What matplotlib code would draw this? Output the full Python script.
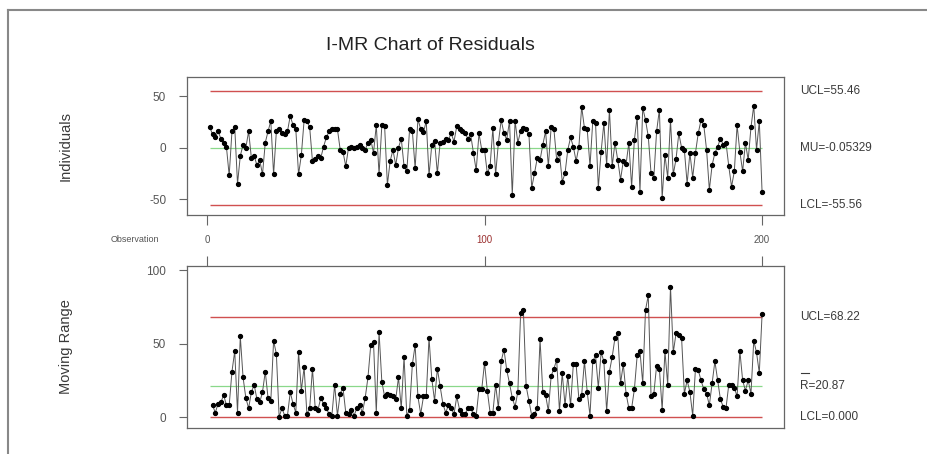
"""I-MR chart of residuals, redrawn from a screenshot."""
import numpy as np
import matplotlib
matplotlib.use('Agg')
import matplotlib.pyplot as plt
from matplotlib.lines import Line2D

plt.rcParams['font.family'] = ['Liberation Sans', 'DejaVu Sans']

# ── data ──
individuals = [
    20, 13, 10, 16, 9, 5, 1, -27, 16, 20, -35, -8, 3, 0, 16, -10, -8, -17, -12, -26,
    5, 16, 26, -26, 16, 18,
    14, 13, 16, 31, 22, 18, -26, -7, 27, 26, 20, -13, -11, -8, -10, 1, 10, 16, 18, 18,
    18, -2, -4, -18, 0, 1, 0, 1, 3,
    0, -2, 5, 8, -5, 22, -26, 22, 21, -36, -13, -2, -17, 0, 9, -18, -23, 18, 16, -20,
    28, 18, 15, 26, -27, 3, 7, -25,
    5, 6, 9, 8, 14, 6, 21, 18, 16, 14, 9, 13, -5, -22, 14, -2, -2, -25, -18, 19,
    -26, 5, 27, 14,
    8, 26, -46, 26, 5, 16, 19, 18, 13, -39, -25, -10, -12, 3, 16, -18, 20, 18, -12, -5,
    -33, -25, -2, 10, 1, -13, 1, 40, 19, 18,
    -18, 26, 24, -39, -4, 24, -17, 37, -18, 5, -12, -31, -13, -16, 5, -38, 8, 30, -43, 39,
    27, 11, -25, -29, 16, 37, -49, -7,
    -29, 27, -26, -11, 14, 0, -2, -35, -5, -29, -5, 14, 27, 22, -2, -41, -17, -5, 1, 9,
    3, 5, -18, -38, -23, 22, -4, -23, 5, -12, 20, 41, -2, 26, -43,
]

moving_range = [
    8, 3, 9, 10, 15, 8, 8, 31, 45, 3, 55, 27, 13, 6, 17, 22, 12, 10, 17, 31,
    13, 11, 52, 43, 0, 6, 1, 1, 17, 9, 3, 44, 18, 34, 2, 6, 33, 6, 5, 13,
    9, 6, 2, 1, 22, 1, 16, 20, 3, 2, 5, 1, 6, 8, 3, 13, 27, 49, 51, 3,
    58, 24, 14, 16,
    15, 14, 12, 27, 6, 41, 1, 5, 36, 49, 14, 2, 14, 14, 54, 26, 11, 33, 21, 9,
    3, 8, 6, 2, 14, 5, 2, 2, 6, 6, 2, 1, 19, 19, 37, 18, 3, 3, 22, 6,
    38, 46, 32, 23, 13, 7, 17, 71, 73, 21, 11, 1, 2, 6, 53, 17, 15, 4, 28, 33,
    39, 4, 30, 8, 28, 8, 36, 36, 12, 15, 38,
    17, 1, 38, 42, 20, 44, 38, 4, 31, 41, 54, 57, 23, 36, 16, 6, 6, 19, 42, 45,
    23, 73, 83, 14, 16, 35, 33, 5, 45, 22, 89, 44, 57, 56, 54, 16, 25, 17, 1, 33,
    32, 25, 19, 16, 8, 23, 38, 25, 12, 7, 6, 22, 22, 20, 14, 45, 25, 18, 25, 16,
    52, 44, 30, 70,
]

i_limits = {'UCL': 55.46, 'MU': -0.05329, 'LCL': -55.56}
mr_limits = {'UCL': 68.22, 'R': 20.87, 'LCL': 0.0}

obs_ticks = [0, 100, 200]
i_yticks = [-50, 0, 50]
mr_yticks = [0, 50, 100]

W, H = 927, 454
fig = plt.figure(figsize=(W / 100, H / 100), dpi=100)
fig.patch.set_facecolor('white')


def px_axes(left, top, right, bottom):
    return fig.add_axes([left / W, 1 - bottom / H, (right - left) / W, (bottom - top) / H])


ax1 = px_axes(187, 77, 784, 215)
ax2 = px_axes(187, 266, 784, 428)

RED = '#d05050'
GREEN = '#8ad88a'
TXT = '#3a3a3a'

x_i = np.arange(1, len(individuals) + 1)
x_mr = np.arange(2, len(moving_range) + 2)
x0, x1 = 1, len(individuals)

# Individuals panel
ax1.hlines([i_limits['UCL'], i_limits['LCL']], x0, x1, color=RED, lw=1.0)
ax1.hlines(i_limits['MU'], x0, x1, color=GREEN, lw=0.9)
ax1.plot(x_i, individuals, color='#555555', lw=0.7, marker='o', ms=2.8,
         mfc='black', mec='black', zorder=3)
ax1.set_ylim(-65.5, 68.9)

# Moving range panel
ax2.hlines([mr_limits['UCL'], mr_limits['LCL']], x0, x1, color=RED, lw=1.0)
ax2.hlines(mr_limits['R'], x0, x1, color=GREEN, lw=0.9)
ax2.plot(x_mr, moving_range, color='#555555', lw=0.7, marker='o', ms=2.8,
         mfc='black', mec='black', zorder=3)
ax2.set_ylim(-7.5, 103)

for ax, yt in ((ax1, i_yticks), (ax2, mr_yticks)):
    ax.set_xlim(-7.2, 207.9)
    ax.set_yticks(yt)
    ax.set_yticklabels([str(v) for v in yt], color='#555555', fontsize=8.5)
    ax.tick_params(axis='y', direction='out', length=6, width=0.8, color='#666666', pad=9)
    for s in ax.spines.values():
        s.set_color('#666666')
        s.set_linewidth(0.9)

ax1.set_xticks(obs_ticks)
ax1.tick_params(axis='x', direction='out', length=7, width=0.8, color='#666666',
                labelbottom=False)
ax2.set_xticks(obs_ticks)
ax2.tick_params(axis='x', direction='out', length=7, width=0.8, color='#666666',
                bottom=False, labelbottom=False, top=True, labeltop=False)

# shared observation axis labels between the panels
fig.text(135 / W, 1 - 240 / H, 'Observation', fontsize=6.5, color='#555555',
         ha='center', va='center')
tick_colors = ['#555555', '#9b3030', '#555555']
for t, c in zip(obs_ticks, tick_colors):
    xd = ax1.transData.transform((t, 0))[0]
    fig.text(xd / W, 1 - 240 / H, str(t), fontsize=7, color=c, ha='center', va='center')

# axis titles
fig.text(66 / W, 1 - 146 / H, 'Individuals', rotation=90, fontsize=10.5,
         color=TXT, ha='center', va='center')
fig.text(66 / W, 1 - 347 / H, 'Moving Range', rotation=90, fontsize=10.5,
         color=TXT, ha='center', va='center')

fig.text(430 / W, 1 - 46 / H, 'I-MR Chart of Residuals', fontsize=14,
         color='#222222', ha='center', va='center')

# limit labels on the right
lx = 800 / W
for key, label in (('UCL', 'UCL=55.46'), ('MU', 'MU=-0.05329'), ('LCL', 'LCL=-55.56')):
    yd = ax1.transData.transform((0, i_limits[key]))[1]
    fig.text(lx, yd / H, label, fontsize=8.5, color=TXT, ha='left', va='center')
for key, label in (('UCL', 'UCL=68.22'), ('R', 'R=20.87'), ('LCL', 'LCL=0.000')):
    yd = ax2.transData.transform((0, mr_limits[key]))[1]
    fig.text(lx, yd / H, label, fontsize=8.5, color=TXT, ha='left', va='center')
# bar over R
yd = ax2.transData.transform((0, mr_limits['R']))[1]
fig.add_artist(Line2D([801 / W, 809 / W], [(yd + 13) / H] * 2, color=TXT, lw=0.8))

# screenshot frame at top and left
fig.add_artist(Line2D([8 / W, 1], [1 - 10 / H] * 2, color='#888888', lw=1.5))
fig.add_artist(Line2D([8 / W] * 2, [0, 1 - 10 / H], color='#888888', lw=1.5))

fig.savefig('out.png', dpi=100)
